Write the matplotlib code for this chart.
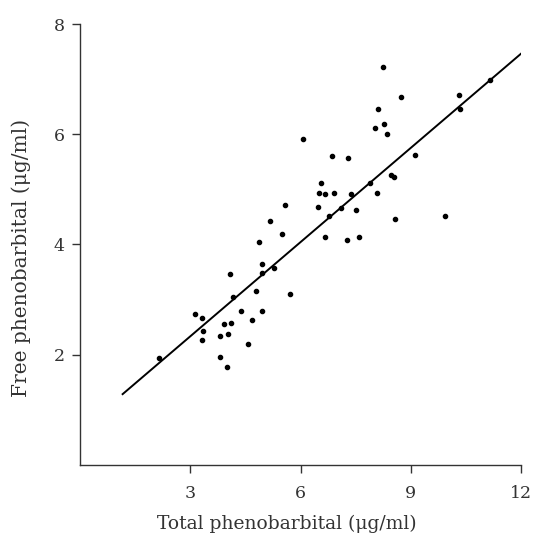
import matplotlib
matplotlib.use("Agg")
import matplotlib.pyplot as plt
import numpy as np

# total vs free phenobarbital (ug/ml)
total = [8.24, 8.74, 8.12, 8.02, 8.27, 8.36, 6.08, 6.85, 7.30, 9.11,
         10.32, 10.34, 11.17, 6.57, 6.49, 6.68, 6.91, 7.38, 7.90, 8.45,
         8.54, 8.08, 5.59, 6.48, 7.10, 7.52, 6.78, 8.56, 9.93, 5.49,
         6.67, 7.60, 7.27, 5.17, 4.88, 4.94, 4.95, 5.27, 4.07, 4.79,
         5.71, 4.17, 4.38, 4.95, 4.69, 3.14, 3.33, 3.36, 3.33, 3.91,
         4.12, 3.81, 4.02, 4.56, 3.81, 4.00, 2.15]
free = [7.23, 6.69, 6.46, 6.12, 6.19, 6.01, 5.91, 5.61, 5.58, 5.63,
        6.71, 6.46, 6.99, 5.11, 4.93, 4.92, 4.94, 4.92, 5.12, 5.26,
        5.22, 4.94, 4.71, 4.68, 4.67, 4.63, 4.51, 4.47, 4.51, 4.19,
        4.14, 4.13, 4.08, 4.43, 4.05, 3.64, 3.48, 3.58, 3.46, 3.16,
        3.10, 3.04, 2.80, 2.80, 2.63, 2.73, 2.67, 2.43, 2.26, 2.55,
        2.57, 2.34, 2.37, 2.20, 1.95, 1.77, 1.94]

# regression line
fit_intercept = 0.617
fit_slope = 0.571
fit_range = [1.16, 12.13]

xticks = [3, 6, 9, 12]
yticks = [2, 4, 6, 8]

plt.rcParams['font.family'] = ['DejaVu Serif']
ink = '#333333'

fig = plt.figure(figsize=(5.38, 5.36), dpi=100)
ax = fig.add_axes([80 / 538, (536 - 464.5) / 536, 441 / 538, 440 / 536])

ax.scatter(total, free, s=9, color='black', zorder=3)
lx = np.array(fit_range)
ax.plot(lx, fit_intercept + fit_slope * lx, color='black', lw=1.4)

ax.set_xlim(0, 12)
ax.set_ylim(0, 8)
ax.set_xticks(xticks)
ax.set_yticks(yticks)
ax.spines['top'].set_visible(False)
ax.spines['right'].set_visible(False)
for s in ['left', 'bottom']:
    ax.spines[s].set_color(ink)
    ax.spines[s].set_linewidth(1.0)
ax.tick_params(direction='out', length=6, width=1.0, color=ink,
               labelsize=12.5, labelcolor=ink)
ax.tick_params(axis='x', pad=9)
ax.tick_params(axis='y', pad=5)

ax.set_xlabel('Total phenobarbital (μg/ml)', fontsize=13.5, color=ink)
ax.set_ylabel('Free phenobarbital (μg/ml)', fontsize=14.5, color=ink)
ax.xaxis.set_label_coords(0.47, -0.115)
ax.yaxis.set_label_coords(-0.11, 0.47)

fig.savefig('out.png', dpi=100)
